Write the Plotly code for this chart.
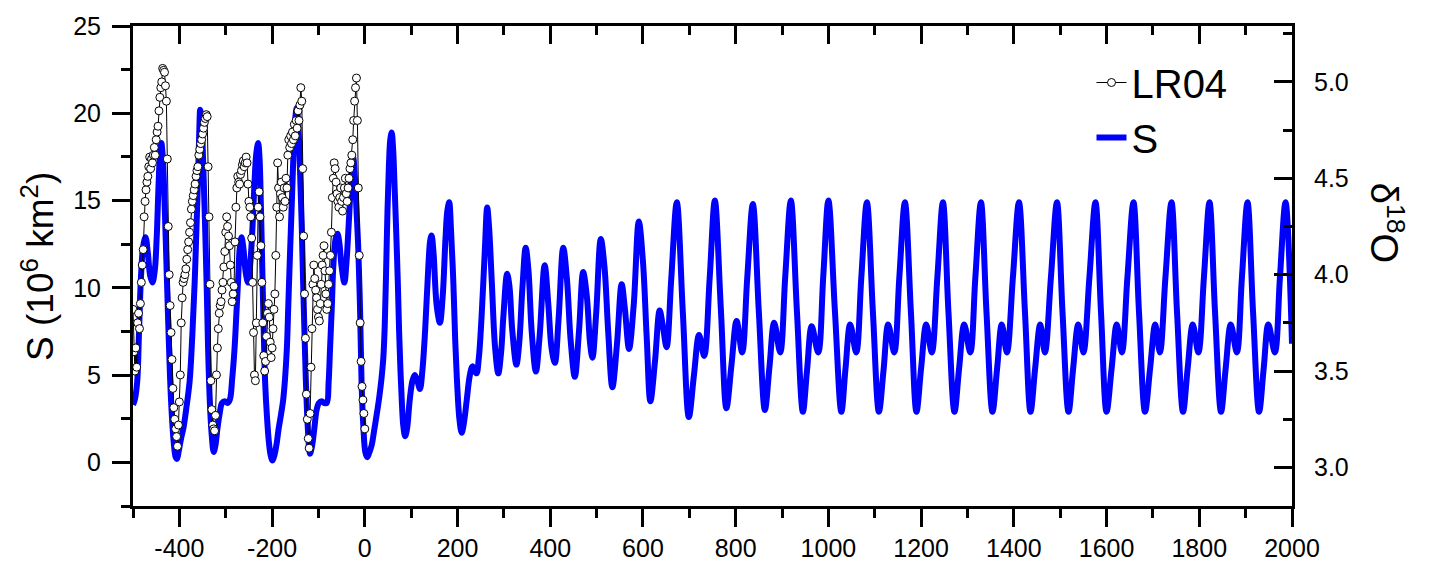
import plotly.graph_objects as go

# ---------------------------------------------------------------------------
# Data
# ---------------------------------------------------------------------------

# LR04 benthic d18O stack (right axis), time in kyr (negative = past)
lr04_kyr = [
    -500, -498, -496, -494, -492, -490, -488, -486, -484, -482,
    -480, -478, -476, -474, -472, -470, -468, -466, -464, -462,
    -460, -458, -456, -454, -452, -450, -448, -446, -444, -442,
    -440, -438, -436, -434, -432, -430, -428, -426, -424, -422,
    -420, -418, -416, -414, -412, -410, -408, -406, -404, -402,
    -400, -398, -396, -394, -392, -390, -388, -386, -384, -382,
    -380, -378, -376, -374, -372, -370, -368, -366, -364, -362,
    -360, -358, -356, -354, -352, -350, -348, -346, -344, -342,
    -340, -338, -336, -334, -332, -330, -328, -326, -324, -322,
    -320, -318, -316, -314, -312, -310, -308, -306, -304, -302,
    -300, -298, -296, -294, -292, -290, -288, -286, -284, -282,
    -280, -278, -276, -274, -272, -270, -268, -266, -264, -262,
    -260, -258, -256, -254, -252, -250, -248, -246, -244, -242,
    -240, -238, -236, -234, -232, -230, -228, -226, -224, -222,
    -220, -218, -216, -214, -212, -210, -208, -206, -204, -202,
    -200, -198, -196, -194, -192, -190, -188, -186, -184, -182,
    -180, -178, -176, -174, -172, -170, -168, -166, -164, -162,
    -160, -158, -156, -154, -152, -150, -148, -146, -144, -142,
    -140, -138, -136, -134, -132, -130, -128, -126, -124, -122,
    -120, -118, -116, -114, -112, -110, -108, -106, -104, -102,
    -100, -98, -96, -94, -92, -90, -88, -86, -84, -82,
    -80, -78, -76, -74, -72, -70, -68, -66, -64, -62,
    -60, -58, -56, -54, -52, -50, -48, -46, -44, -42,
    -40, -38, -36, -34, -32, -30, -28, -26, -24, -22,
    -20, -18, -16, -14, -12, -10, -8, -6, -4, -2,
    0,
]
lr04_d18o = [
    3.82, 3.60, 3.50, 3.62, 3.52, 3.75, 3.80, 3.72, 3.85, 3.96,
    4.05, 4.13, 4.30, 4.38, 4.44, 4.48, 4.51, 4.56, 4.61, 4.55,
    4.60, 4.58, 4.62, 4.66, 4.62, 4.70, 4.74, 4.77, 4.85, 4.92,
    4.97, 5.00, 5.07, 5.06, 5.05, 4.98, 4.90, 4.60, 4.25, 4.00,
    3.84, 3.70, 3.56, 3.41, 3.31, 3.25, 3.20, 3.16, 3.11, 3.22,
    3.34, 3.48, 3.75, 3.88, 3.96, 3.98, 4.00, 4.03, 4.08, 4.13,
    4.17, 4.22, 4.27, 4.34, 4.38, 4.41, 4.44, 4.47, 4.51, 4.54,
    4.56, 4.62, 4.65, 4.68, 4.70, 4.73, 4.76, 4.79, 4.81, 4.83,
    4.82, 4.56, 4.30, 3.95, 3.45, 3.30, 3.22, 3.20, 3.19, 3.27,
    3.48, 3.62, 3.72, 3.80, 3.84, 3.86, 3.92, 3.96, 4.04, 4.12,
    4.22, 4.30, 4.25, 4.20, 4.15, 4.05, 3.96, 3.86, 3.90, 3.94,
    4.17, 4.35, 4.45, 4.51, 4.48, 4.47, 4.52, 4.54, 4.57, 4.59,
    4.56, 4.58, 4.61, 4.58, 4.47, 4.38, 4.35, 4.30, 4.19, 3.96,
    3.70, 3.48, 3.45, 3.75, 4.10, 4.35, 4.43, 4.30, 4.15, 3.96,
    3.75, 3.58, 3.50, 3.55, 3.68, 3.80, 3.85, 3.78, 3.65, 3.57,
    3.62, 3.72, 3.82, 3.90, 4.10, 4.35, 4.58, 4.45, 4.30, 4.42,
    4.48, 4.40, 4.35, 4.45, 4.38, 4.50, 4.45, 4.62, 4.70, 4.66,
    4.72, 4.68, 4.74, 4.70, 4.78, 4.72, 4.80, 4.76, 4.85, 4.80,
    4.88, 4.97, 4.90, 4.55, 4.20, 3.90, 3.67, 3.38, 3.25, 3.15,
    3.10, 3.28, 3.52, 3.72, 3.95, 4.05, 3.98, 3.92, 3.88, 3.82,
    3.78, 3.76, 3.85, 3.95, 4.05, 4.10, 4.15, 4.02, 3.90, 3.82,
    3.85, 3.95, 4.02, 4.10, 4.22, 4.40, 4.50, 4.58, 4.55, 4.48,
    4.42, 4.38, 4.35, 4.40, 4.45, 4.38, 4.33, 4.40, 4.45, 4.50,
    4.42, 4.38, 4.45, 4.50, 4.55, 4.58, 4.62, 4.70, 4.80, 4.90,
    4.97, 5.02, 4.80, 4.45, 4.10, 3.75, 3.55, 3.42, 3.35, 3.28,
    3.20,
]

# Modelled ice area S (left axis, 10^6 km^2)
s_kyr = [
    -500, -496, -491, -487, -483, -478, -473, -468, -463, -458,
    -453, -449, -445, -442, -439, -436, -432, -428, -424, -420,
    -416, -412, -408, -405, -401, -396, -391, -385, -378, -372,
    -367, -363, -360, -357, -355, -352, -349, -345, -341, -338,
    -334, -330, -326, -322, -318, -313, -308, -302, -296, -291,
    -286, -281, -277, -273, -270, -266, -262, -257, -252, -247,
    -242, -238, -234, -230, -227, -224, -221, -218, -215, -211,
    -207, -203, -199, -195, -190, -186, -181, -176, -172, -168,
    -165, -161, -157, -154, -150, -147, -144, -140, -136, -133,
    -130, -127, -123, -120, -118, -114, -109, -104, -99, -93,
    -87, -82, -78, -75, -71, -68, -63, -59, -55, -50,
    -44, -40, -35, -32, -28, -25, -22, -18, -14, -10,
    -7, -3, 1, 5, 9, 15, 20, 26, 31, 36,
    40, 43, 46, 49, 52, 55, 58, 61, 64, 67,
    71, 74, 77, 80, 83, 87, 91, 97, 103, 108,
    114, 119, 124, 130, 137, 141, 144, 148, 155, 162,
    168, 174, 178, 182, 186, 191, 195, 199, 204, 209,
    214, 220, 226, 232, 236, 241, 246, 252, 259, 264,
    268, 274, 281, 288, 294, 299, 307, 312, 318, 327,
    333, 340, 347, 353, 360, 369, 377, 388, 396, 403,
    410, 418, 428, 436, 444, 453, 462, 471, 479, 486,
    491, 499, 509, 517, 525, 534, 544, 554, 561, 570,
    580, 591, 600, 608, 616, 626, 636, 643, 651, 661,
    673, 686, 699, 710, 721, 732, 744,
    755, 768, 780, 791, 802, 814, 825,
    837, 850, 863, 873, 883, 896, 907,
    919, 932, 945, 954, 964, 978, 989,
    1000, 1014, 1028, 1037, 1047, 1060, 1071,
    1083, 1096, 1109, 1119, 1129, 1142, 1153,
    1165, 1178, 1190, 1200, 1211, 1223, 1235,
    1247, 1259, 1272, 1282, 1293, 1306, 1317,
    1329, 1341, 1354, 1364, 1374, 1385, 1398,
    1411, 1424, 1436, 1446, 1457, 1467, 1480,
    1493, 1505, 1518, 1528, 1539, 1550, 1563,
    1576, 1588, 1600, 1611, 1622, 1633, 1645,
    1658, 1670, 1683, 1694, 1705, 1715, 1727,
    1740, 1752, 1765, 1775, 1786, 1798, 1810,
    1822, 1834, 1847, 1857, 1868, 1881, 1892,
    1904, 1916, 1929, 1939, 1949, 1963, 1974,
    1986, 2000,
]
s_area = [
    3.3, 3.6, 4.6, 7.5, 10.5, 12.4, 12.9, 12.0, 10.7, 10.3,
    11.0, 12.8, 15.8, 17.6, 18.3, 17.6, 15.0, 11.5, 8.0, 4.8,
    2.6, 1.1, 0.3, 0.2, 0.7, 1.4, 2.0, 3.1, 4.6, 7.3,
    10.3, 13.5, 16.0, 19.0, 20.2, 19.6, 17.5, 14.0, 10.0, 6.5,
    3.3, 1.5, 0.6, 1.0, 1.9, 2.8, 3.4, 3.5, 3.4, 3.6,
    4.8, 6.5, 8.5, 10.6, 12.2, 12.9, 12.3, 10.9, 10.3, 11.4,
    13.6, 16.0, 17.7, 18.3, 17.4, 14.6, 11.0, 7.5, 4.6, 2.6,
    1.2, 0.4, 0.1, 0.4, 1.1, 1.9, 2.7, 3.6, 4.8, 6.6,
    9.0, 12.2, 15.2, 17.6, 19.7, 20.3, 19.6, 16.9, 13.5, 10.3,
    7.3, 4.6, 2.0, 0.8, 0.5, 0.9, 1.9, 3.0, 3.4, 3.5,
    3.4, 3.4, 4.6, 6.5, 9.0, 11.2, 12.8, 13.1, 12.6, 11.2,
    10.3, 11.3, 13.5, 15.0, 17.0, 17.5, 16.6, 14.5, 12.2, 8.5,
    4.6, 2.0, 0.6, 0.3, 0.5, 1.0, 1.8, 2.8, 3.7, 4.8,
    6.0, 7.8, 11.0, 14.5, 17.0, 18.5, 18.9, 18.0, 16.0, 13.8,
    10.5, 7.5, 5.2, 3.4, 2.1, 1.5, 1.9, 3.6, 4.7, 5.0,
    4.6, 4.2, 5.2, 7.5, 11.2, 12.7, 13.0, 12.1, 9.0, 8.0,
    9.5, 12.8, 14.4, 14.9, 13.3, 10.3, 7.0, 4.6, 2.5, 1.7,
    2.3, 3.6, 4.9, 5.5, 5.3, 5.1, 6.0, 8.4, 12.2, 14.6,
    13.5, 10.3, 6.6, 5.1, 6.3, 8.4, 10.8, 10.1, 7.6, 5.6,
    6.8, 10.0, 12.3, 11.0, 7.5, 5.2, 7.2, 11.3, 9.0, 6.5,
    5.7, 8.2, 12.3, 10.5, 7.0, 4.9, 7.5, 10.9, 9.5, 6.8,
    6.0, 8.5, 12.8, 11.2, 7.5, 4.3, 6.8, 10.2, 8.8, 6.5,
    9.0, 13.8, 11.5, 7.2, 3.5, 5.8, 8.7, 7.8, 6.6, 10.5,
    14.9, 8.6, 2.6, 5.0, 7.3, 6.1, 10.6,
    15.0, 8.8, 3.1, 5.6, 8.1, 6.3, 10.6,
    14.8, 8.6, 3.0, 5.5, 8.0, 6.3, 10.7,
    15.0, 8.7, 2.9, 5.3, 7.8, 6.3, 10.7,
    15.0, 8.7, 2.9, 5.4, 7.9, 6.3, 10.6,
    14.9, 8.6, 2.9, 5.3, 7.9, 6.3, 10.6,
    14.9, 8.6, 2.9, 5.4, 7.9, 6.3, 10.6,
    14.9, 8.6, 2.9, 5.4, 7.9, 6.3, 10.6,
    14.9, 8.6, 2.9, 5.4, 7.9, 6.3, 10.6,
    14.9, 8.6, 2.9, 5.4, 7.9, 6.3, 10.6,
    14.9, 8.6, 2.9, 5.4, 7.9, 6.3, 10.6,
    14.9, 8.6, 2.9, 5.4, 7.9, 6.3, 10.6,
    14.9, 8.6, 2.9, 5.4, 7.9, 6.3, 10.6,
    14.9, 8.6, 2.9, 5.4, 7.9, 6.3, 10.6,
    14.9, 8.6, 2.9, 5.4, 7.9, 6.3, 10.6,
    14.9, 8.6, 2.9, 5.4, 7.9, 6.3, 10.6,
    14.9, 6.8,
]

# Tick labels (plain hyphen minus, as in the reference)
x_tickvals = [-400, -200, 0, 200, 400, 600, 800, 1000, 1200, 1400, 1600, 1800, 2000]
x_ticktext = ["-400", "-200", "0", "200", "400", "600", "800", "1000",
              "1200", "1400", "1600", "1800", "2000"]

FONT = "Liberation Sans, Arial, sans-serif"

fig = go.Figure()
fig.add_trace(go.Scatter(
    x=s_kyr, y=s_area,
    mode="lines",
    name="S",
    line=dict(color="#0000FF", width=6, shape="spline"),
))
fig.add_trace(go.Scatter(
    x=lr04_kyr, y=lr04_d18o,
    xaxis="x2", yaxis="y2",
    mode="lines+markers",
    name="LR04",
    line=dict(color="black", width=1),
    marker=dict(symbol="circle", size=8, color="white",
                line=dict(color="black", width=1)),
))

line_style = dict(showline=True, linecolor="black", linewidth=3,
                  showgrid=False, zeroline=False)
tick_font = dict(family=FONT, size=25, color="black")

fig.update_layout(
    width=1434, height=574,
    paper_bgcolor="white", plot_bgcolor="white",
    margin=dict(l=133, r=142, t=25, b=66),
    font=dict(family=FONT, color="black"),
    xaxis=dict(
        range=[-500, 2000], tickmode="array",
        tickvals=x_tickvals, ticktext=x_ticktext, tickfont=tick_font,
        ticks="outside", ticklen=18, tickwidth=3, tickcolor="black",
        minor=dict(dtick=100, ticks="outside", ticklen=9,
                   tickwidth=3, tickcolor="black"),
        **line_style,
    ),
    # top frame: ticks point into the plot, no labels
    xaxis2=dict(
        overlaying="x", side="top", anchor="y2", range=[-500, 2000],
        tickmode="array", tickvals=x_tickvals, showticklabels=False,
        ticks="inside", ticklen=18, tickwidth=3, tickcolor="black",
        minor=dict(dtick=100, ticks="inside", ticklen=9,
                   tickwidth=3, tickcolor="black"),
        **line_style,
    ),
    yaxis=dict(
        range=[-2.5, 25], dtick=5, tickfont=tick_font,
        ticks="outside", ticklen=18, tickwidth=3, tickcolor="black",
        ticklabelstandoff=6,
        minor=dict(dtick=2.5, ticks="outside", ticklen=9,
                   tickwidth=3, tickcolor="black"),
        **line_style,
    ),
    yaxis2=dict(
        overlaying="y", side="right", anchor="x2",
        range=[2.80, 5.29], dtick=0.5, tickformat=".1f", tickfont=tick_font,
        ticks="inside", ticklen=18, tickwidth=3, tickcolor="black",
        ticklabelstandoff=14,
        minor=dict(dtick=0.25, ticks="inside", ticklen=9,
                   tickwidth=3, tickcolor="black"),
        **line_style,
    ),
    showlegend=True,
    legend=dict(
        x=0.827, y=0.95, xanchor="left", yanchor="top",
        traceorder="reversed",
        font=dict(family=FONT, size=40, color="black"),
        bgcolor="rgba(0,0,0,0)",
    ),
    annotations=[
        dict(text="S (10<sup>6</sup> km<sup>2</sup>)", textangle=-90,
             xref="paper", yref="paper", x=-0.082, y=0.5,
             xanchor="center", yanchor="middle",
             showarrow=False, font=dict(family=FONT, size=37, color="black")),
        dict(text="δ<sup>18</sup>O", textangle=90,
             xref="paper", yref="paper", x=1.082, y=0.59,
             xanchor="center", yanchor="middle",
             showarrow=False, font=dict(family=FONT, size=38, color="black")),
    ],
)

fig.write_html("out.html", config={"displayModeBar": False},
               post_script="document.body.style.margin='0';")
